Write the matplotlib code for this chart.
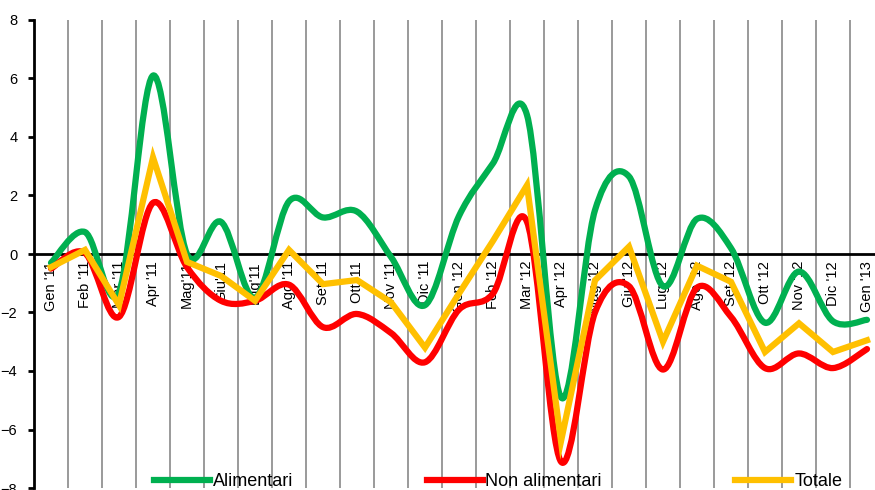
import matplotlib
matplotlib.use("Agg")
import matplotlib.pyplot as plt
from matplotlib.path import Path
from matplotlib.patches import PathPatch
from matplotlib.lines import Line2D
import numpy as np

plt.rcParams['font.family'] = ['Liberation Sans', 'DejaVu Sans']

months = ["Gen '11", "Feb '11", "Mar '11", "Apr '11", "Mag'11", "Giu'11", "Lug'11",
          "Ago '11", "Set '11", "Ott '11", "Nov '11", "Dic '11", "Gen '12", "Feb '12",
          "Mar '12", "Apr '12", "Mag '12", "Giu '12", "Lug '12", "Ago '12", "Set '12",
          "Ott '12", "Nov '12", "Dic '12", "Gen '13"]

alimentari = [-0.3, 0.75, -1.3, 6.1, 0.0, 1.1, -1.5, 1.8, 1.25, 1.45, -0.1, -1.75,
              1.3, 3.1, 4.75, -4.9, 1.5, 2.65, -1.1, 1.2, 0.2, -2.35, -0.6, -2.3, -2.25]
non_alimentari = [-0.5, 0.03, -2.15, 1.75, -0.45, -1.6, -1.6, -1.05, -2.5, -2.05, -2.7, -3.7,
                  -1.9, -1.35, 1.1, -7.1, -2.0, -1.1, -3.95, -1.15, -2.15, -3.9, -3.4, -3.9, -3.25]
totale = [-0.45, 0.14, -1.75, 3.3, -0.27, -0.75, -1.6, 0.14, -1.03, -0.89, -1.65, -3.2,
          -1.35, 0.45, 2.35, -6.4, -0.9, 0.25, -3.0, -0.4, -0.95, -3.35, -2.37, -3.35, -2.95]

GREEN = "#00B050"
RED = "#FF0000"
YELLOW = "#FFC000"
LW = 4.5


def smooth_path(xs, ys):
    # bezier spline through the points (like excel "smoothed line")
    pts = np.column_stack([xs, ys]).astype(float)
    n = len(pts)
    verts = [pts[0]]
    codes = [Path.MOVETO]
    for i in range(n - 1):
        p0 = pts[i - 1] if i > 0 else pts[i]
        p1 = pts[i]
        p2 = pts[i + 1]
        p3 = pts[i + 2] if i + 2 < n else pts[i + 1]
        c1 = p1 + (p2 - p0) / 6.0
        c2 = p2 - (p3 - p1) / 6.0
        verts += [c1, c2, p2]
        codes += [Path.CURVE4] * 3
    return Path(verts, codes)


fig = plt.figure(figsize=(8.75, 4.9), dpi=100)
ax = fig.add_axes([34 / 875, 2 / 490, 850 / 875, 468 / 490])

x = np.arange(len(months))

ax.set_xlim(-0.5, len(months) - 0.5)
ax.set_ylim(-8, 8)

# category gridlines between months
for b in np.arange(0.5, len(months) - 0.5, 1.0):
    ax.axvline(b, color="#9a9a9a", lw=1.4, zorder=1)

ax.add_patch(PathPatch(smooth_path(x, alimentari), facecolor="none", edgecolor=GREEN,
                       lw=LW, capstyle="round", joinstyle="round", zorder=3))
ax.add_patch(PathPatch(smooth_path(x, non_alimentari), facecolor="none", edgecolor=RED,
                       lw=LW, capstyle="round", joinstyle="round", zorder=3))
ax.plot(x, totale, color=YELLOW, lw=LW, solid_joinstyle="miter", zorder=4)

ax.spines['top'].set_visible(False)
ax.spines['right'].set_visible(False)
ax.spines['left'].set_linewidth(2)
ax.spines['bottom'].set_position(('data', 0))
ax.spines['bottom'].set_linewidth(2)
ax.spines['bottom'].set_zorder(2)

ax.set_yticks(range(-8, 9, 2))
ax.tick_params(axis='y', direction='out', length=4, width=2, labelsize=10.5, pad=8)
ax.set_xticks(x)
ax.set_xticklabels(months, rotation=90, fontsize=10.5)
ax.tick_params(axis='x', length=0, pad=5)

handles = [Line2D([], [], color=GREEN, lw=LW),
           Line2D([], [], color=RED, lw=LW),
           Line2D([], [], color=YELLOW, lw=LW)]
fig.legend(handles, ["Alimentari", "Non alimentari", "Totale"], loc="lower left",
           bbox_to_anchor=(154 / 875, 0.0), ncol=3, frameon=False, fontsize=13,
           handlelength=3.1, handletextpad=0.15, columnspacing=7.4, borderpad=0,
           borderaxespad=0)

fig.savefig("out.png", dpi=100)
